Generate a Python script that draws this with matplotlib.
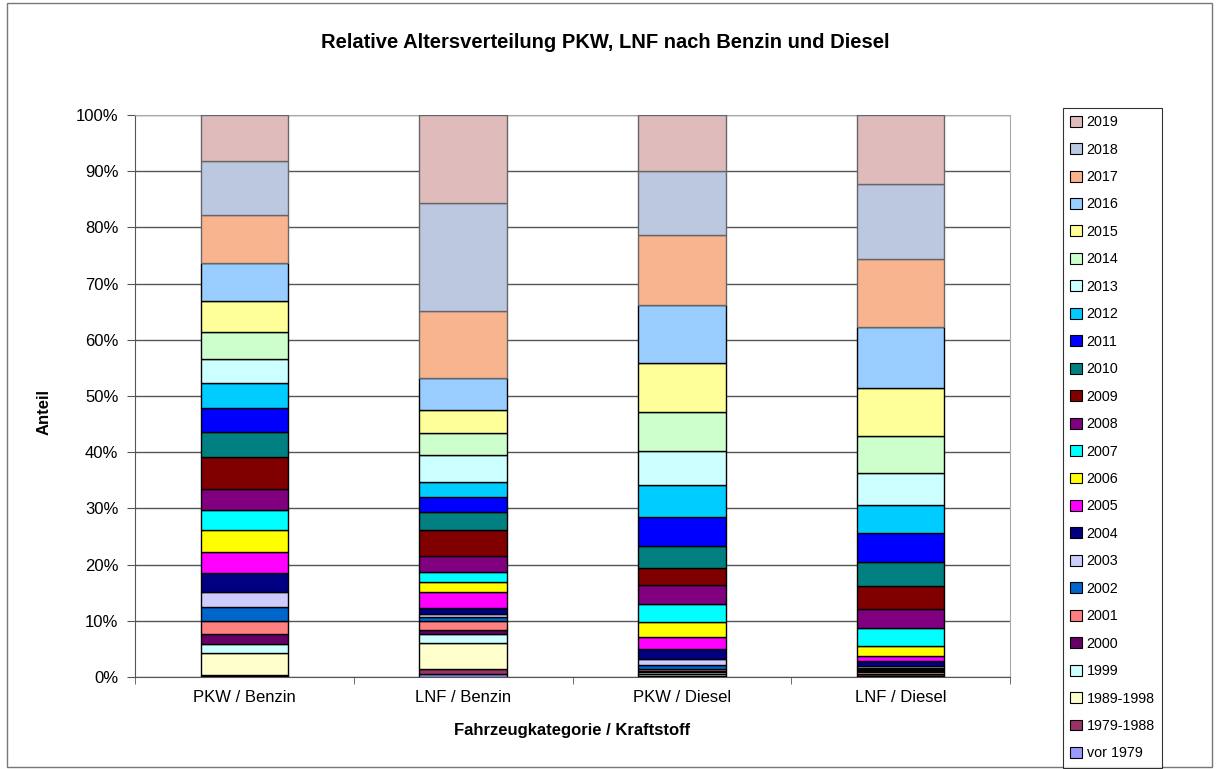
import numpy as np
import matplotlib
matplotlib.use('Agg')
import matplotlib.pyplot as plt
from matplotlib.patches import Patch, Rectangle

plt.rcParams['font.family'] = ['Liberation Sans', 'DejaVu Sans']

categories = ['PKW / Benzin', 'LNF / Benzin', 'PKW / Diesel', 'LNF / Diesel']
years = ['vor 1979', '1979-1988', '1989-1998', '1999', '2000', '2001', '2002',
         '2003', '2004', '2005', '2006', '2007', '2008', '2009', '2010', '2011',
         '2012', '2013', '2014', '2015', '2016', '2017', '2018', '2019']

# Anteile in %, je Kategorie von vor 1979 bis 2019
pkw_benzin = [0.1, 0.3, 3.81, 1.71, 1.67, 2.32, 2.49, 2.78, 3.33, 3.73, 3.97, 3.51,
              3.69, 5.80, 4.34, 4.34, 4.41, 4.27, 4.75, 5.57, 6.77, 8.60, 9.49, 8.24]
lnf_benzin = [0.48, 0.94, 4.70, 1.48, 0.71, 1.73, 0.64, 0.53, 1.14, 2.85, 1.70, 1.85,
              2.78, 4.57, 3.21, 2.72, 2.61, 4.93, 3.85, 4.04, 5.74, 11.87, 19.27, 15.66]
pkw_diesel = [0.1, 0.15, 0.35, 0.25, 0.29, 0.28, 0.66, 1.12, 1.85, 2.07, 2.74, 3.20,
              3.26, 3.08, 3.98, 5.09, 5.69, 6.00, 6.94, 8.77, 10.39, 12.39, 11.45, 9.90]
lnf_diesel = [0.2, 0.3, 0.4, 0.2, 0.22, 0.10, 0.25, 0.29, 0.83, 1.02, 1.71, 3.15,
              3.50, 4.02, 4.27, 5.16, 4.93, 5.82, 6.58, 8.42, 10.85, 12.16, 13.29, 12.33]

colors = ['#9999FF', '#993366', '#FFFFCC', '#CCFFFF', '#660066', '#FF8080', '#0066CC',
          '#CCCCFF', '#000080', '#FF00FF', '#FFFF00', '#00FFFF', '#800080', '#800000',
          '#008080', '#0000FF', '#00CCFF', '#CCFFFF', '#CCFFCC', '#FFFF99', '#99CCFF',
          '#F8B48E', '#BBC8E0', '#DFBBBC']

data = np.array([pkw_benzin, lnf_benzin, pkw_diesel, lnf_diesel])
data = data / data.sum(axis=1, keepdims=True) * 100

fig = plt.figure(figsize=(12.17, 7.69), dpi=100)
ax = fig.add_axes([135/1217, 1-677/769, 875/1217, 562/769])

x = np.arange(len(categories))
bottom = np.zeros(len(categories))
for i, yr in enumerate(years):
    ec = '#666666' if i >= 21 else 'black'
    ax.bar(x, data[:, i], 0.4, bottom=bottom, color=colors[i], edgecolor=ec,
           linewidth=1.0, zorder=3)
    bottom += data[:, i]

ax.set_xlim(-0.5, 3.5)
ax.set_ylim(0, 100)
ax.set_yticks(np.arange(0, 101, 10))
ax.set_yticklabels([f'{v}%' for v in range(0, 101, 10)], fontsize=12)
ax.set_xticks(x)
ax.set_xticklabels(categories, fontsize=12)
ax.set_xticks([-0.5, 0.5, 1.5, 2.5, 3.5], minor=True)
ax.tick_params(axis='x', which='major', length=0, pad=9)
ax.tick_params(axis='x', which='minor', length=5, color='#555555')
ax.tick_params(axis='y', length=6, color='#555555', pad=6)
ax.grid(axis='y', color='#555555', linewidth=1, zorder=0)

for s in ['top', 'right']:
    ax.spines[s].set_color('#AAAAAA')
for s in ['left', 'bottom']:
    ax.spines[s].set_color('#555555')

ax.set_ylabel('Anteil', fontsize=12, fontweight='bold')
ax.yaxis.set_label_coords(-0.095, 0.472)
ax.set_xlabel('Fahrzeugkategorie / Kraftstoff', fontsize=12, fontweight='bold')
ax.xaxis.set_label_coords(0.5, -0.081)
fig.text(0.497, 1-42/769, 'Relative Altersverteilung PKW, LNF nach Benzin und Diesel',
         ha='center', va='center', fontsize=14.5, fontweight='bold')

handles = [Patch(facecolor=colors[i], edgecolor='black', linewidth=0.8, label=years[i])
           for i in range(len(years))][::-1]
leg = fig.legend(handles=handles, loc='upper left', bbox_to_anchor=(1063/1217, 1-108/769),
                 fontsize=10.3, frameon=True, fancybox=False, edgecolor='black',
                 handlelength=0.8, handleheight=0.8, handletextpad=0.35,
                 labelspacing=0.94, borderpad=0.5, borderaxespad=0)
leg.get_frame().set_linewidth(0.8)

fig.patches.append(Rectangle((7/1217, 2/769), 1205/1217, 764/769, transform=fig.transFigure,
                             fill=False, edgecolor='#777777', linewidth=1))

fig.savefig('out.png', dpi=100)
